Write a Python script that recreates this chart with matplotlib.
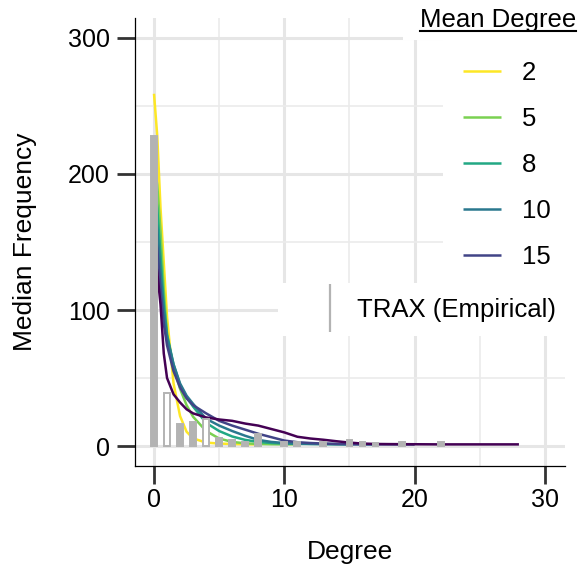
import matplotlib
matplotlib.use("Agg")
import matplotlib.pyplot as plt
from matplotlib.lines import Line2D
from matplotlib.patches import Rectangle

plt.rcParams["font.family"] = ["Liberation Sans", "DejaVu Sans"]

W, H = 585, 572  # output size in pixels

# degree grid the median curves were read at
DEGREES = [0, 0.25, 0.5, 0.75, 1, 1.5, 2, 2.5, 3, 4, 5, 6, 7, 8, 9, 10,
           11, 12, 13, 14, 15, 16, 17, 18, 20, 22, 24, 26, 28]

# median frequency per simulated mean degree (each stops at its max degree)
MD2 = [259, 228, 175, 135, 95, 46, 22, 10.5, 5.6, 2.5, 1.8, 1.5, 1.3, 1.2]
MD5 = [210, 192, 158, 115, 82, 58, 42, 30, 21.5, 11, 5.5, 3, 2, 1.5, 1.3,
       1.2, 1.2]
MD8 = [195, 175, 140, 105, 82, 60, 45, 36, 29, 17, 11, 7, 4.5, 3, 2.2, 1.8,
       1.6, 1.5, 1.4, 1.3, 1.2]
MD10 = [180, 160, 128, 100, 80, 60, 46, 37, 31, 20, 15, 11, 7.5, 4.5, 3,
        2.2, 1.8, 1.6, 1.5, 1.4, 1.3, 1.2, 1.2]
MD15 = [165, 145, 115, 90, 74, 55, 43, 35, 30, 24, 18.5, 15, 12, 9, 6.5, 4,
        2.8, 2.2, 1.8, 1.5, 1.4, 1.3, 1.2, 1.2, 1.1]
MD20 = [145, 128, 104, 68, 50, 38, 32, 27, 24, 21, 19.5, 18.5, 16.5, 15,
        12.5, 10, 6.8, 5.5, 4.6, 3.5, 2.5, 1.8, 1.5, 1.4, 1.3, 1.2, 1.2, 1.2,
        1.2]

# empirical TRAX degree distribution
TRAX_DEG = [0, 1, 2, 3, 4, 5, 6, 7, 8, 10, 11, 13, 15, 16, 17, 19, 22]
TRAX_FREQ = [228, 39, 16, 17.5, 19.5, 6, 4.5, 3.2, 8.6, 3.2, 3, 3, 4.4, 3,
             2.5, 3, 3]
TRAX_HOLLOW = [1, 4]

SERIES = [("2", MD2, "#FDE725"), ("5", MD5, "#7AD151"), ("8", MD8, "#22A884"),
          ("10", MD10, "#2A788E"), ("15", MD15, "#414487"),
          ("20", MD20, "#440154")]
LEGEND_LEVELS = ["2", "5", "8", "10", "15"]
BAR_COLOR = "#B3B3B3"


def fx(px):
    return px / W


def fy(py):
    return 1 - py / H


fig = plt.figure(figsize=(W / 100, H / 100), dpi=100)
ax = fig.add_axes([fx(135), fy(466), fx(565) - fx(135), fy(18) - fy(466)])

handles = {}
for label, vals, color in SERIES:
    (ln,) = ax.plot(DEGREES[:len(vals)], vals, color=color, lw=1.8,
                    label=label, zorder=2, solid_capstyle="butt")
    handles[label] = ln

faces = ["white" if d in TRAX_HOLLOW else BAR_COLOR for d in TRAX_DEG]
ax.bar(TRAX_DEG, TRAX_FREQ, width=0.45, color=faces, edgecolor=BAR_COLOR,
       linewidth=1.4, zorder=3)

ax.set_xlim(-1.458, 31.535)
ax.set_ylim(-14.7, 314.7)
ax.set_xticks([0, 10, 20, 30])
ax.set_xticks([5, 15, 25], minor=True)
ax.set_yticks([0, 100, 200, 300])
ax.set_yticks([50, 150, 250], minor=True)
ax.grid(which="major", color="#E6E6E6", lw=2.2, zorder=0)
ax.grid(which="minor", color="#EBEBEB", lw=1.2, zorder=0)
ax.set_axisbelow(True)
ax.tick_params(which="major", length=13, width=2, color="#333333",
               labelsize=18, labelcolor="black")
ax.tick_params(axis="x", pad=2.5)
ax.tick_params(axis="y", pad=5)
ax.tick_params(which="minor", length=0)
for side in ("top", "right"):
    ax.spines[side].set_visible(False)
for side in ("left", "bottom"):
    ax.spines[side].set_linewidth(0.9)
    ax.spines[side].set_color("black")

ax.set_xlabel("Degree", fontsize=19)
ax.set_ylabel("Median Frequency", fontsize=19)
ax.xaxis.set_label_coords(0.5, -0.165)
ax.yaxis.set_label_coords(-0.228, 0.5)

# white legend backgrounds (ggplot legend boxes hide the grid)
for x0, y0, x1, y1 in [(403, 0, 585, 40), (443, 40, 585, 283),
                       (278, 283, 585, 336)]:
    fig.patches.append(Rectangle((fx(x0), fy(y1)), fx(x1) - fx(x0),
                                 fy(y0) - fy(y1), transform=fig.transFigure,
                                 facecolor="white", edgecolor="none",
                                 zorder=1))

leg1 = fig.legend([handles[k] for k in LEGEND_LEVELS], LEGEND_LEVELS,
                  loc="upper left", bbox_to_anchor=(fx(463), fy(61)),
                  bbox_transform=fig.transFigure, frameon=False,
                  fontsize=18.5, borderpad=0, borderaxespad=0,
                  handlelength=1.48, handletextpad=0.8, labelspacing=0.86)
for ln in leg1.get_lines():
    ln.set_linewidth(1.8)

trax_key = Line2D([], [], color=BAR_COLOR, marker="|", markersize=34.5,
                  markeredgewidth=1.6, linestyle="None")
fig.legend([trax_key], ["TRAX (Empirical)"], loc="center left",
           bbox_to_anchor=(fx(317.5), fy(310)), bbox_transform=fig.transFigure,
           frameon=False, fontsize=18.5, borderpad=0, borderaxespad=0,
           handlelength=1.0, handletextpad=0.54)

title = fig.text(fx(420), fy(26.7), "Mean Degree", fontsize=18.5,
                 ha="left", va="baseline", zorder=6)
fig.canvas.draw()
bb = title.get_window_extent()
fig.add_artist(Line2D([bb.x0 / W, bb.x1 / W], [fy(30.7), fy(30.7)],
                      transform=fig.transFigure, color="black", lw=1.5,
                      zorder=6))

fig.savefig("out.png", dpi=100)
